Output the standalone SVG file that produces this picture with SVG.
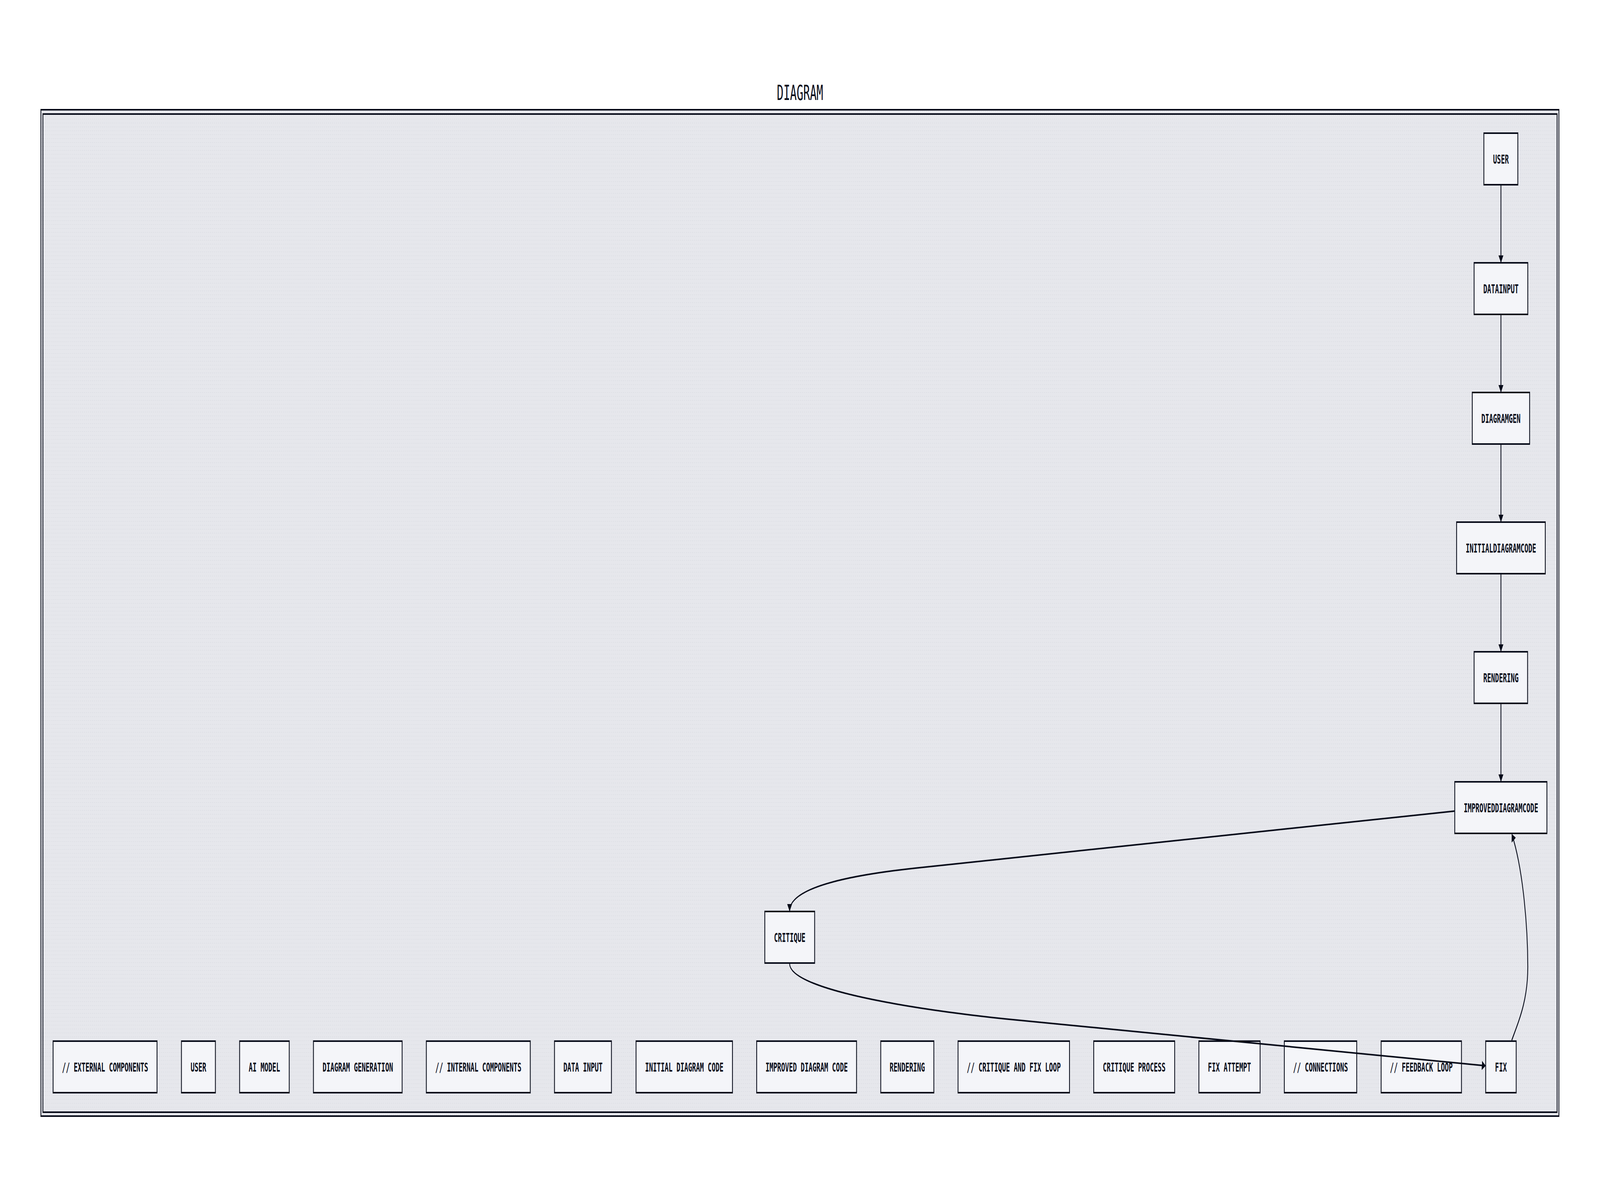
<svg xmlns="http://www.w3.org/2000/svg" width="7866" height="3060" viewBox="0 0 7866 3060" preserveAspectRatio="none">
<style>
svg{width:100vw;height:100vh;display:block}
.frame{fill:url(#dots);stroke:#070b19;stroke-width:4}
.node rect{fill:#f4f5f9;stroke:#070b19;stroke-width:4}
.node text{font-family:"DejaVu Sans Mono","Liberation Mono",monospace;font-weight:bold;font-size:32px;fill:#070b19;text-anchor:middle}
.title{font-family:"DejaVu Sans Mono","Liberation Mono",monospace;font-size:54px;fill:#070b19;text-anchor:middle}
.edge{fill:none;stroke:#070b19;stroke-width:4}
</style>
<defs>
<pattern id="dots" x="0" y="0" width="10" height="10" patternUnits="userSpaceOnUse">
<rect width="10" height="10" fill="#e6e7ec"/>
<rect x="4" y="4" width="2" height="2" fill="#d3d5dc"/>
</pattern>
<marker id="arrow" viewBox="0 0 19 24" refX="17" refY="12" markerWidth="19" markerHeight="24" markerUnits="userSpaceOnUse" orient="auto">
<path d="M0,0 L19,12 L0,24 z" fill="#070b19"/>
</marker>
</defs>
<rect width="7866" height="3060" fill="#ffffff"/>
<text class="title" x="3933" y="256">DIAGRAM</text>
<g id="frame">
<rect class="frame" x="201" y="281" width="7463" height="2577"/>
<rect class="frame" x="211" y="292" width="7444" height="2556"/>
</g>
<g id="nodes">
<g id="User" class="node"><rect x="7295" y="341" width="167" height="132"/><text x="7379" y="419">USER</text></g>
<g id="DataInput" class="node"><rect x="7247" y="673" width="264" height="132"/><text x="7379" y="751">DATAINPUT</text></g>
<g id="DiagramGen" class="node"><rect x="7238" y="1005" width="282" height="132"/><text x="7379" y="1083">DIAGRAMGEN</text></g>
<g id="InitialDiagramCode" class="node"><rect x="7161" y="1337" width="436" height="132"/><text x="7379" y="1415">INITIALDIAGRAMCODE</text></g>
<g id="Rendering" class="node"><rect x="7247" y="1669" width="263" height="132"/><text x="7379" y="1747">RENDERING</text></g>
<g id="ImprovedDiagramCode" class="node"><rect x="7152" y="2002" width="453" height="132"/><text x="7379" y="2080">IMPROVEDDIAGRAMCODE</text></g>
<g id="Critique" class="node"><rect x="3760" y="2334" width="245" height="132"/><text x="3882.5" y="2412">CRITIQUE</text></g>
<g id="c-external" class="node"><rect x="261" y="2666" width="511" height="132"/><text x="516.5" y="2744">// EXTERNAL COMPONENTS</text></g>
<g id="c-user" class="node"><rect x="892" y="2666" width="167" height="132"/><text x="975.5" y="2744">USER</text></g>
<g id="c-aimodel" class="node"><rect x="1178" y="2666" width="244" height="132"/><text x="1300" y="2744">AI MODEL</text></g>
<g id="c-diagramgeneration" class="node"><rect x="1541" y="2666" width="436" height="132"/><text x="1759" y="2744">DIAGRAM GENERATION</text></g>
<g id="c-internal" class="node"><rect x="2096" y="2666" width="511" height="132"/><text x="2351.5" y="2744">// INTERNAL COMPONENTS</text></g>
<g id="c-datainput" class="node"><rect x="2726" y="2666" width="280" height="132"/><text x="2866" y="2744">DATA INPUT</text></g>
<g id="c-initialcode" class="node"><rect x="3127" y="2666" width="474" height="132"/><text x="3364" y="2744">INITIAL DIAGRAM CODE</text></g>
<g id="c-improvedcode" class="node"><rect x="3720" y="2666" width="491" height="132"/><text x="3965.5" y="2744">IMPROVED DIAGRAM CODE</text></g>
<g id="c-rendering" class="node"><rect x="4330" y="2666" width="261" height="132"/><text x="4460.5" y="2744">RENDERING</text></g>
<g id="c-critiqueloop" class="node"><rect x="4710" y="2666" width="548" height="132"/><text x="4984" y="2744">// CRITIQUE AND FIX LOOP</text></g>
<g id="c-critiqueprocess" class="node"><rect x="5377" y="2666" width="398" height="132"/><text x="5576" y="2744">CRITIQUE PROCESS</text></g>
<g id="c-fixattempt" class="node"><rect x="5894" y="2666" width="301" height="132"/><text x="6044.5" y="2744">FIX ATTEMPT</text></g>
<g id="c-connections" class="node"><rect x="6314" y="2666" width="356" height="132"/><text x="6492" y="2744">// CONNECTIONS</text></g>
<g id="c-feedback" class="node"><rect x="6790" y="2666" width="395" height="132"/><text x="6987.5" y="2744">// FEEDBACK LOOP</text></g>
<g id="Fix" class="node"><rect x="7304" y="2666" width="150" height="132"/><text x="7379" y="2744">FIX</text></g>
</g>
<g id="connectors">
<path class="edge" d="M7379,475 L7379,671" marker-end="url(#arrow)"/>
<path class="edge" d="M7379,807 L7379,1003" marker-end="url(#arrow)"/>
<path class="edge" d="M7379,1139 L7379,1335" marker-end="url(#arrow)"/>
<path class="edge" d="M7379,1471 L7379,1667" marker-end="url(#arrow)"/>
<path class="edge" d="M7379,1803 L7379,2000" marker-end="url(#arrow)"/>
<path class="edge" d="M7150,2077 L4500,2223 C4200,2240 3882,2270 3882,2332" marker-end="url(#arrow)"/>
<path class="edge" d="M3882,2468 C3882,2540 4600,2592 5000,2612 L7302,2729" marker-end="url(#arrow)"/>
<path class="edge" d="M7432,2664 C7470,2610 7511,2560 7511,2476 C7511,2380 7490,2230 7433,2137" marker-end="url(#arrow)"/>
</g>
</svg>
